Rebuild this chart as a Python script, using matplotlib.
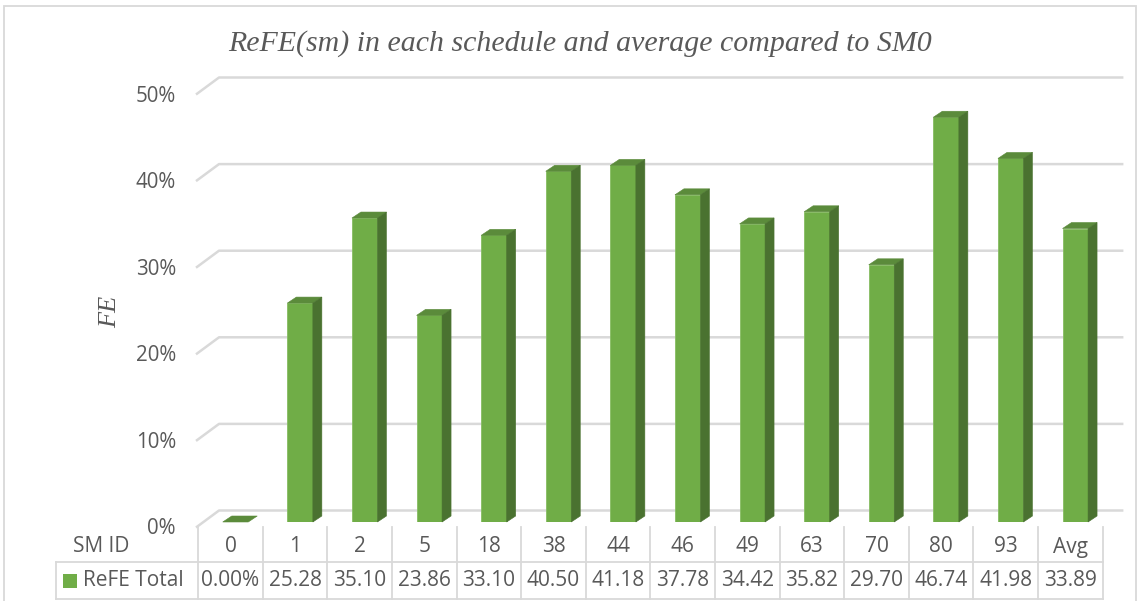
import matplotlib
matplotlib.use("Agg")
import matplotlib.pyplot as plt
from matplotlib.patches import Polygon, Rectangle
from matplotlib.lines import Line2D

# ---- data -------------------------------------------------------------
sm_ids = ["0", "1", "2", "5", "18", "38", "44", "46", "49", "63", "70", "80", "93", "Avg"]
refe_total = [0.00, 25.28, 35.10, 23.86, 33.10, 40.50, 41.18, 37.78,
              34.42, 35.82, 29.70, 46.74, 41.98, 33.89]
y_ticks = [0, 10, 20, 30, 40, 50]
series_name = "ReFE Total"
row_header = "SM ID"
title = "ReFE(sm) in each schedule and average compared to SM0"
y_label = "FE"

# ---- style ------------------------------------------------------------
W, H = 1139, 601
FRONT = "#70ad47"
TOP = "#5b8b3b"
SIDE = "#4a7230"
GRID = "#d9d9d9"
TEXT = "#595959"
SANS = "Open Sans"
SERIF = "Liberation Serif"

BAR_W = 0.395          # bar width in category units
DEPTH = (9, 6)         # bar depth in pixels (right, up)
BACK = (15.8, 11.5)    # back wall offset from bar plane (pixels)
FRONT_EDGE = (-7.2, -5.5)  # floor front edge offset from bar plane

fig = plt.figure(figsize=(W / 100, H / 100), dpi=100)


def fx(px):
    return px / W


def fy(py):
    return 1 - py / H


# axes placed in the bar plane
ax_left, ax_right, ax_bottom, ax_top = 203.2, 1107.6, 522, 89
ax = fig.add_axes([fx(ax_left), fy(ax_bottom),
                   (ax_right - ax_left) / W, (ax_bottom - ax_top) / H])
n = len(sm_ids)
ax.set_xlim(-0.5, n - 0.5)
ax.set_ylim(y_ticks[0], y_ticks[-1])
ax.axis("off")

p0 = ax.transData.transform((0, 0))
p1 = ax.transData.transform((1, 1))
ppx = p1[0] - p0[0]
ppy = p1[1] - p0[1]


def dx(pix):
    return pix / ppx


def dy(pix):
    return pix / ppy


def to_fig_x(xd):
    return ax.transData.transform((xd, 0))[0] / W


# ---- walls / gridlines -------------------------------------------------
for v in y_ticks:
    xs = [-0.5 + dx(FRONT_EDGE[0]), -0.5 + dx(BACK[0]), n - 0.5 + dx(BACK[0])]
    ys = [v + dy(FRONT_EDGE[1]), v + dy(BACK[1]), v + dy(BACK[1])]
    ax.plot(xs, ys, color=GRID, lw=1.8, zorder=0, clip_on=False,
            solid_capstyle="butt")
    ax.text(-0.5 + dx(FRONT_EDGE[0] - 20), v + dy(FRONT_EDGE[1] - 1.5),
            f"{v}%", ha="right", va="center", fontsize=14.8,
            family=SANS, color=TEXT)

# ---- 3D columns --------------------------------------------------------
xs = list(range(n))
ax.bar(xs, refe_total, width=BAR_W, color=FRONT, edgecolor="#86bd62",
       linewidth=0.6, zorder=3)
ddx, ddy = dx(DEPTH[0]), dy(DEPTH[1])
for x, v in zip(xs, refe_total):
    xl, xr = x - BAR_W / 2, x + BAR_W / 2
    top = Polygon([(xl, v), (xr, v), (xr + ddx, v + ddy), (xl + ddx, v + ddy)],
                  closed=True, facecolor=TOP, edgecolor=TOP, lw=0.4,
                  zorder=4, clip_on=False)
    ax.add_patch(top)
    if v > 0:
        side = Polygon([(xr, 0), (xr, v), (xr + ddx, v + ddy), (xr + ddx, ddy)],
                       closed=True, facecolor=SIDE, edgecolor=SIDE, lw=0.4,
                       zorder=4, clip_on=False)
        ax.add_patch(side)

# ---- data table --------------------------------------------------------
shift = dx(-5)
col_lines = [to_fig_x(k - 0.5 + shift) for k in range(n + 1)]
centers = [to_fig_x(i + shift) for i in range(n)]
row_top, row_mid, row_bot = 527, 562, 599
table_left = 56

for xk in col_lines:
    fig.add_artist(Line2D([xk, xk], [fy(row_top), fy(row_bot)],
                          color=GRID, lw=1.3, transform=fig.transFigure))
for yy in (row_mid, row_bot):
    fig.add_artist(Line2D([fx(table_left), col_lines[-1]], [fy(yy), fy(yy)],
                          color=GRID, lw=1.3, transform=fig.transFigure))
fig.add_artist(Line2D([fx(table_left), fx(table_left)], [fy(row_mid), fy(row_bot)],
                      color=GRID, lw=1.3, transform=fig.transFigure))

labels = [f"{v:.2f}%" if i == 0 else f"{v:.2f}" for i, v in enumerate(refe_total)]
for cx, sid, lab in zip(centers, sm_ids, labels):
    fig.text(cx, fy(547), sid, ha="center", va="center", fontsize=15,
             family=SANS, color=TEXT)
    fig.text(cx, fy(581), lab, ha="center", va="center", fontsize=15,
             family=SANS, color=TEXT)

fig.text(fx(101), fy(547), row_header, ha="center", va="center", fontsize=15,
         family=SANS, color=TEXT)
fig.add_artist(Rectangle((fx(63), fy(588)), 14 / W, 14 / H, facecolor=FRONT,
                         edgecolor="none", transform=fig.transFigure))
fig.text(fx(83), fy(581), series_name, ha="left", va="center", fontsize=15,
         family=SANS, color=TEXT)

# ---- titles ------------------------------------------------------------
fig.text(fx(580), fy(44), title, ha="center", va="center", fontsize=21.5,
         family=SERIF, style="italic", color=TEXT)
fig.text(fx(110), fy(312), y_label, ha="center", va="center", rotation=90,
         fontsize=19, family=SERIF, style="italic", color=TEXT)

# chart border
fig.add_artist(Rectangle((fx(4), fy(640)), (1136 - 4) / W, (640 - 6) / H,
                         fill=False, edgecolor=GRID, lw=1.3,
                         transform=fig.transFigure))

fig.savefig("out.png", dpi=100)
